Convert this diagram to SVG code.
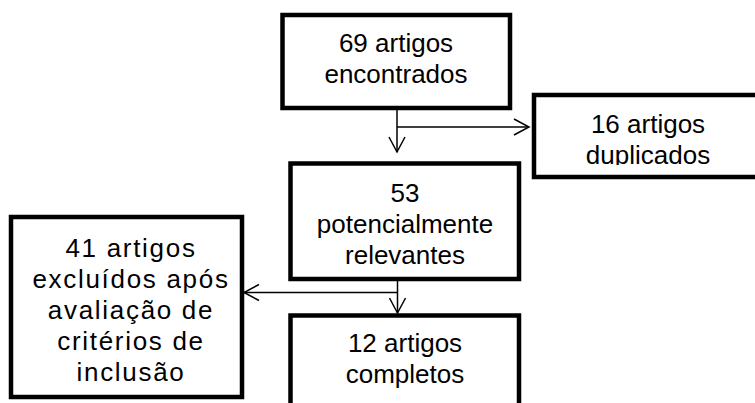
<svg xmlns="http://www.w3.org/2000/svg" width="755" height="403" viewBox="0 0 755 403">
<style>
.box{fill:#fff;stroke:#000;stroke-width:4.5}
.t{font-family:"Liberation Sans",Arial,sans-serif;font-size:26px;fill:#000;text-anchor:middle}
.ls{letter-spacing:1.7px}
.c{fill:none;stroke:#000;stroke-width:1.5}
</style>
<defs>
<marker id="ah" markerUnits="userSpaceOnUse" markerWidth="20" markerHeight="20" viewBox="-17 -10 20 20" refX="0" refY="0" orient="auto">
<path d="M-15,-8 L0,0 L-15,8" fill="none" stroke="#000" stroke-width="1.5"/>
</marker>
<clipPath id="clip2"><rect x="536" y="97" width="219" height="68"/></clipPath>
<clipPath id="clip5"><rect x="13" y="219" width="227" height="166"/></clipPath>
</defs>
<g id="n1">
<rect class="box" x="282.5" y="15" width="227.5" height="93"/>
<text class="t" x="396" y="52">69 artigos</text>
<text class="t" x="396" y="83">encontrados</text>
</g>
<g id="n2">
<rect class="box" x="534" y="95" width="228" height="82"/>
<g clip-path="url(#clip2)">
<text class="t" x="648" y="133">16 artigos</text>
<text class="t" x="648" y="164">duplicados</text>
</g>
</g>
<g id="n3">
<rect class="box" x="290.5" y="163.5" width="228.5" height="115.5"/>
<text class="t" x="405" y="202">53</text>
<text class="t" x="405" y="233">potencialmente</text>
<text class="t" x="405" y="264">relevantes</text>
</g>
<g id="n4">
<rect class="box" x="290.5" y="315.5" width="228.5" height="100"/>
<text class="t" x="405" y="352">12 artigos</text>
<text class="t" x="405" y="383">completos</text>
</g>
<g id="n5">
<rect class="box" x="11" y="217" width="231" height="180"/>
<g clip-path="url(#clip5)">
<text class="t ls" x="131" y="257">41 artigos</text>
<text class="t ls" x="131" y="288">excluídos após</text>
<text class="t ls" x="131" y="319">avaliação de</text>
<text class="t ls" x="131" y="350">critérios de</text>
<text class="t ls" x="131" y="381">inclusão</text>
</g>
</g>
<g id="connectors">
<line class="c" x1="397" y1="110" x2="397" y2="152" marker-end="url(#ah)"/>
<line class="c" x1="397" y1="127" x2="529" y2="127" marker-end="url(#ah)"/>
<line class="c" x1="397.5" y1="281" x2="397.5" y2="313" marker-end="url(#ah)"/>
<line class="c" x1="397.5" y1="292.5" x2="244" y2="292.5" marker-end="url(#ah)"/>
</g>
</svg>
